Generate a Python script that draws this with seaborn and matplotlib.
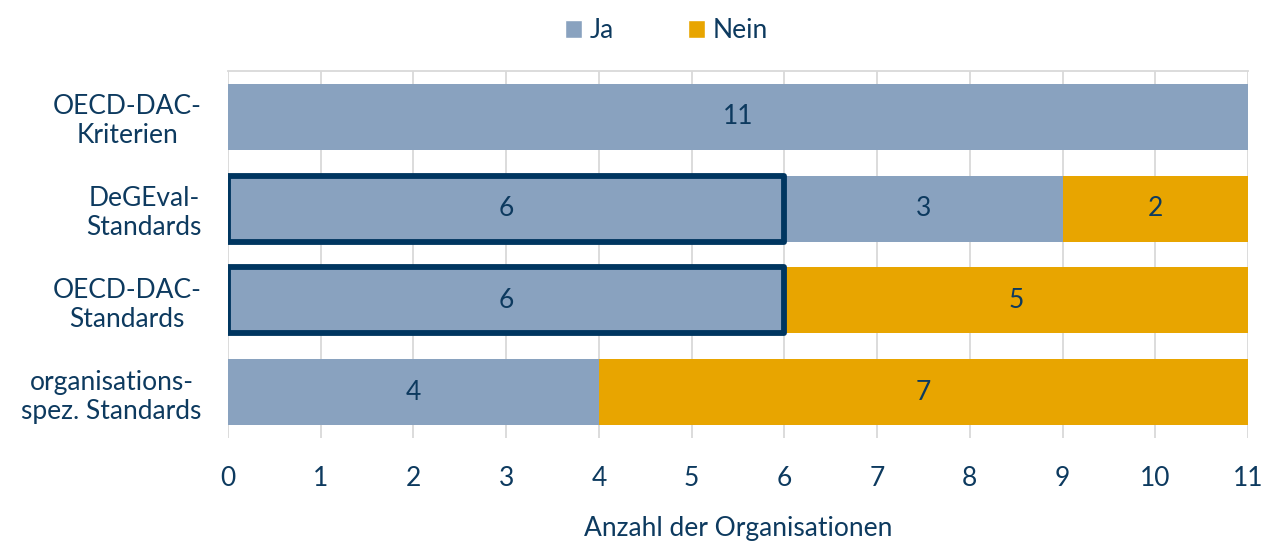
import matplotlib
matplotlib.use("Agg")
import matplotlib.pyplot as plt
from matplotlib.patches import Patch
import seaborn as sns
import pandas as pd
import numpy as np

# data
categories = ["OECD-DAC-\nKriterien", "DeGEval-\nStandards",
              "OECD-DAC-\nStandards", "organisations-\nspez. Standards"]
ja_marked = [0, 6, 6, 0]    # outlined part of the "Ja" bars
ja_rest = [11, 3, 0, 4]
nein = [0, 2, 5, 7]
x_ticks = list(range(0, 12))

ja_color = "#89a2bf"
nein_color = "#e8a500"
text_color = "#0d3a5f"
edge_color = "#003660"
fs = 19

sns.set_style("white")
plt.rcParams['font.family'] = ['Lato', 'DejaVu Sans']

df = pd.DataFrame({"cat": categories, "marked": ja_marked,
                   "rest": ja_rest, "nein": nein})
df["ja"] = df["marked"] + df["rest"]
df["total"] = df["ja"] + df["nein"]

fig = plt.figure(figsize=(12.62, 5.41), dpi=100)
ax = fig.add_axes([0.1807, 0.1904, 0.8082, 0.6784])

# stacked bars: draw totals first, then cover with the shorter layers
sns.barplot(data=df, x="total", y="cat", orient="h", color=nein_color,
            width=0.72, linewidth=0, saturation=1, ax=ax, zorder=2)
sns.barplot(data=df, x="ja", y="cat", orient="h", color=ja_color,
            width=0.72, linewidth=0, saturation=1, ax=ax, zorder=3)
sns.barplot(data=df, x="marked", y="cat", orient="h", color=ja_color,
            width=0.72, linewidth=4.2, edgecolor=edge_color, saturation=1,
            ax=ax, zorder=4)
# hide zero-width outlined bars
for p in ax.containers[2]:
    if p.get_width() == 0:
        p.set_visible(False)
    else:
        p.set_joinstyle("round")

# segment labels
for i, row in df.iterrows():
    segs = [(0, row["marked"]), (row["marked"], row["rest"]),
            (row["ja"], row["nein"])]
    for start, w in segs:
        if w > 0:
            ax.text(start + w / 2, i, str(w), ha="center", va="center",
                    fontsize=fs, color=text_color, zorder=5)

ax.set_xlim(0, 11)
ax.set_ylim(3.5, -0.5)
ax.set_xticks(x_ticks)
ax.set_xlabel("Anzahl der Organisationen", fontsize=fs, color=text_color,
              labelpad=18)
ax.set_ylabel("")
ax.xaxis.grid(True, color="#d9d9d9", linewidth=1.3, zorder=0)
ax.set_axisbelow(True)
ax.tick_params(axis="x", length=0, pad=20, labelsize=fs, labelcolor=text_color)
ax.tick_params(axis="y", length=0, pad=19, labelsize=fs, labelcolor=text_color)
for lab in ax.get_yticklabels():
    lab.set_multialignment("center")

for s in ["left", "right", "bottom"]:
    ax.spines[s].set_visible(False)
ax.spines["top"].set_color("#d9d9d9")
ax.spines["top"].set_linewidth(1.3)

handles = [Patch(facecolor=ja_color, label="Ja"),
           Patch(facecolor=nein_color, label="Nein")]
fig.legend(handles=handles, loc="upper center", bbox_to_anchor=(0.528, 1.01),
           ncol=2, frameon=False, fontsize=fs, labelcolor=text_color,
           handlelength=0.65, handleheight=0.65, handletextpad=0.3,
           columnspacing=2.8)

fig.savefig("out.png", dpi=100)
